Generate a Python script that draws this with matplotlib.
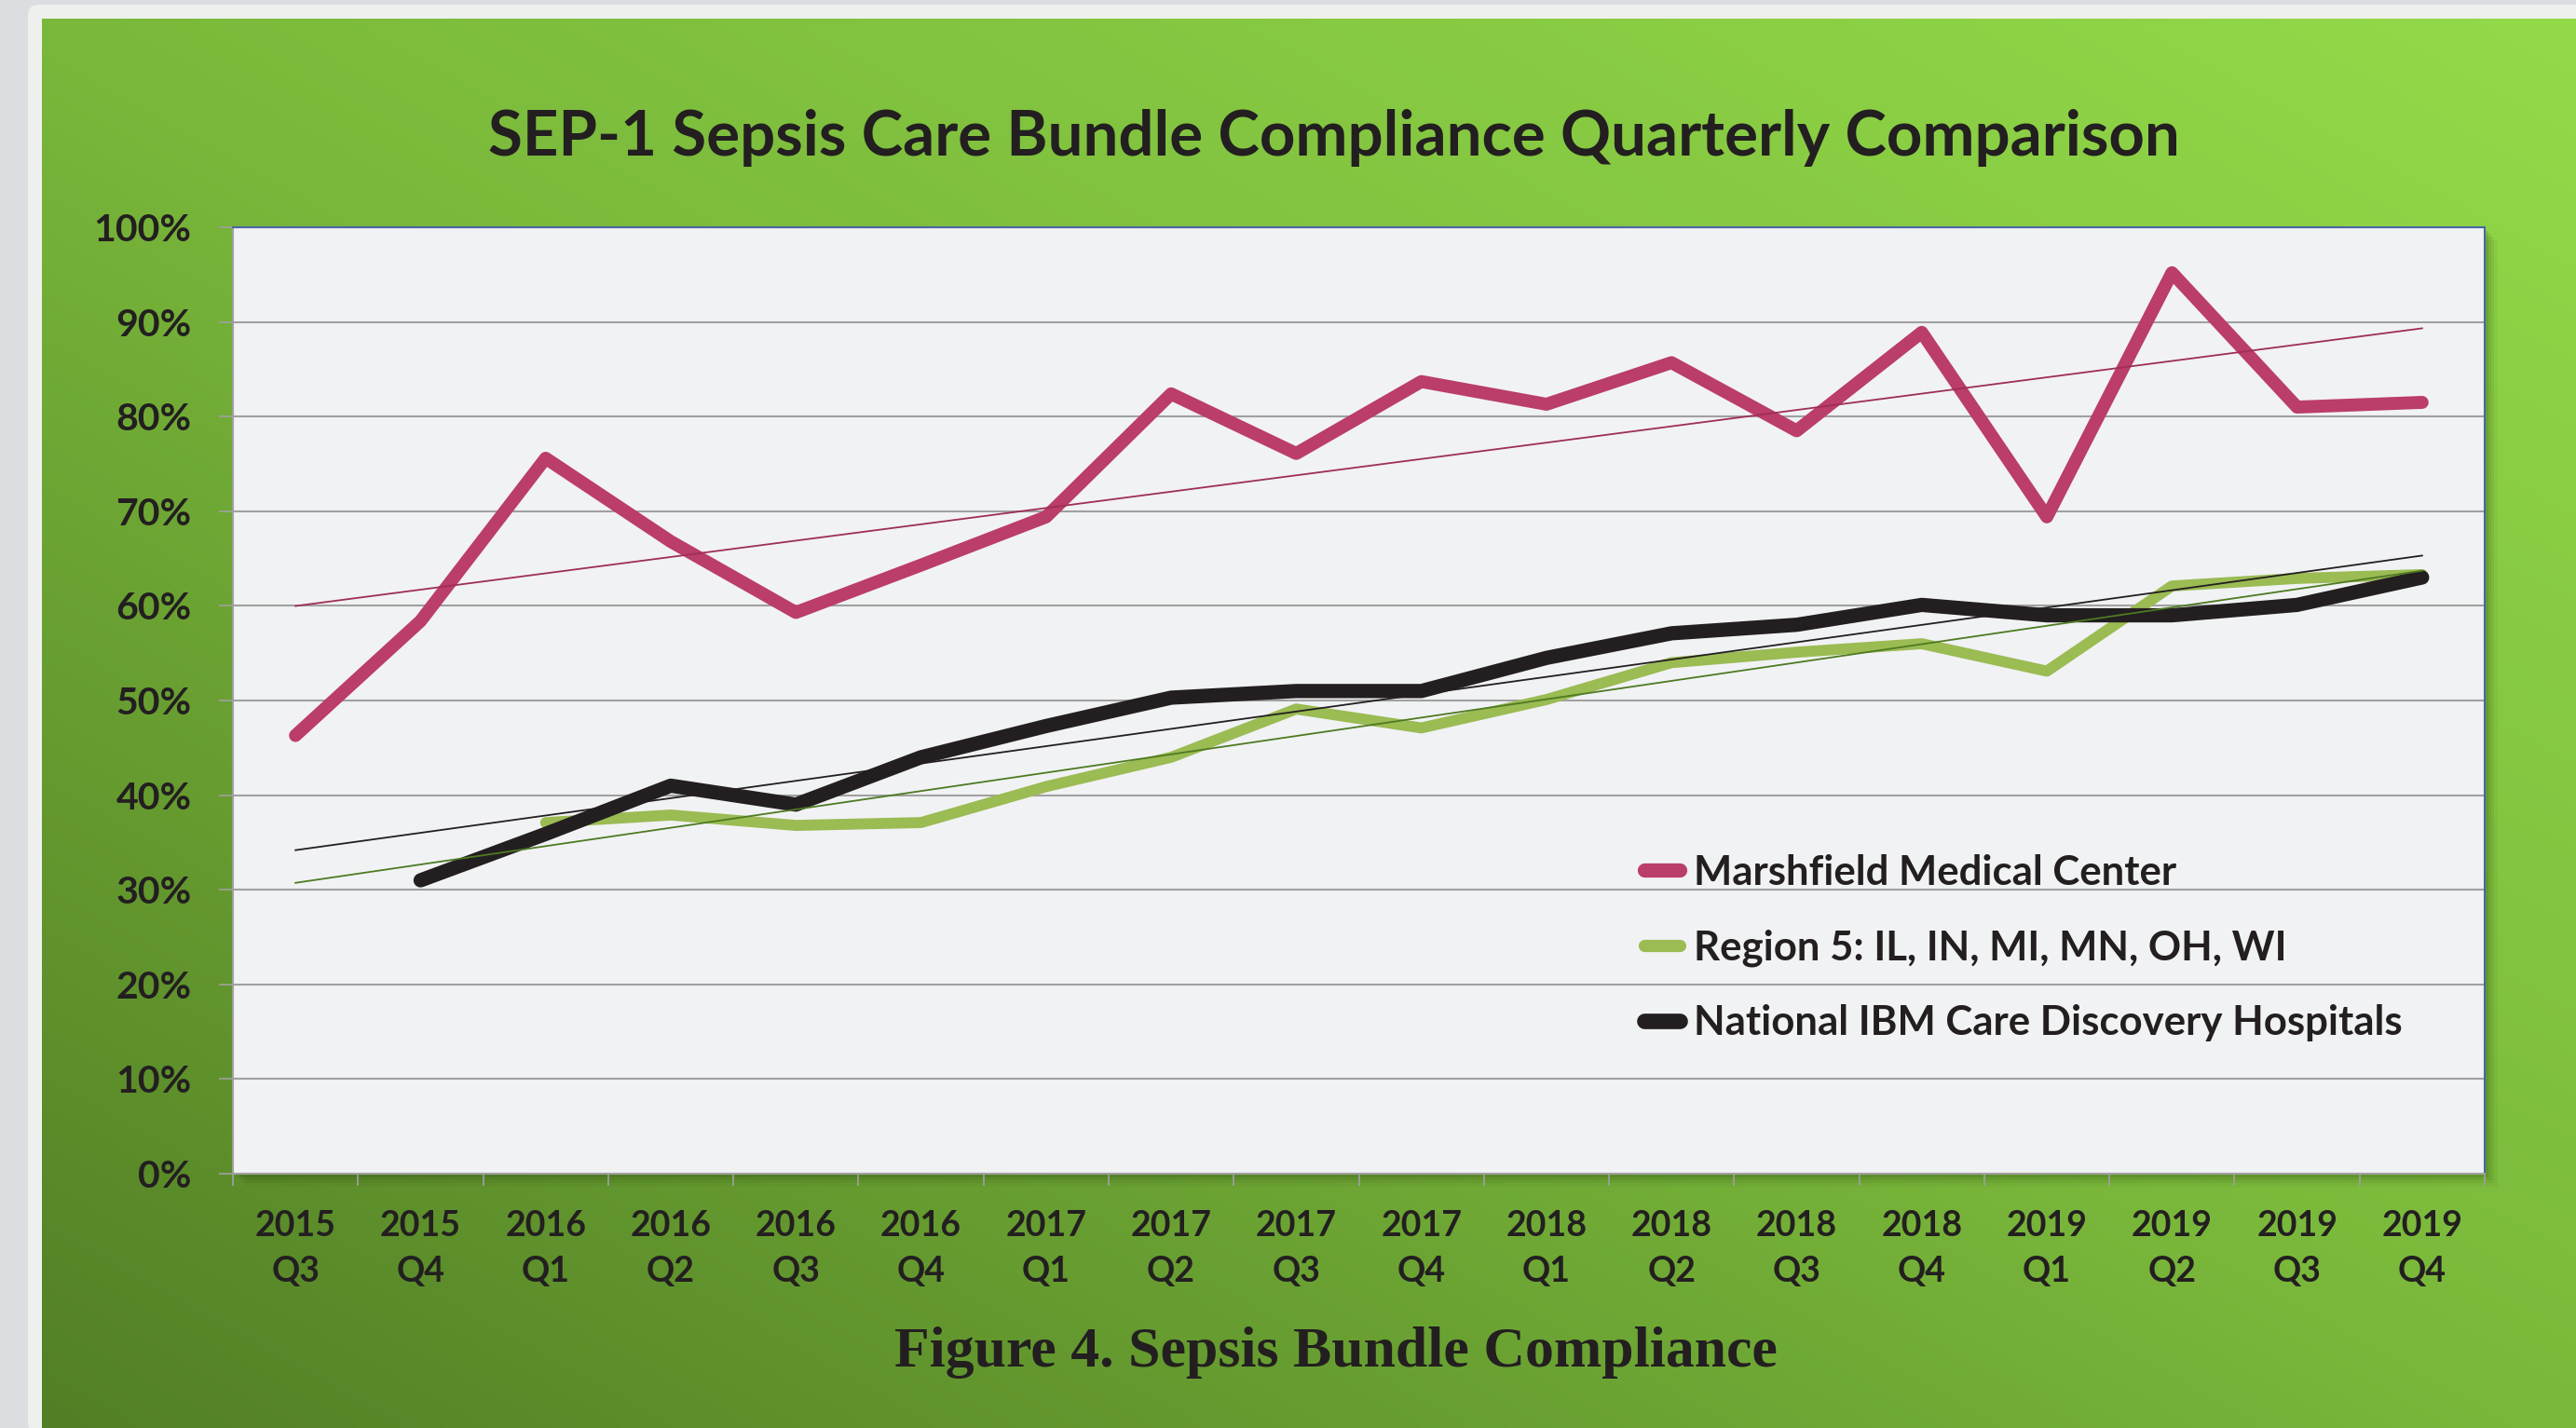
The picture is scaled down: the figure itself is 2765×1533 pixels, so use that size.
import numpy as np
import matplotlib
matplotlib.use("Agg")
import matplotlib.pyplot as plt
from matplotlib.patches import Rectangle, FancyBboxPatch
from matplotlib.ticker import PercentFormatter

# Datos (porcentaje de cumplimiento)
trimestres = ["2015\nQ3", "2015\nQ4", "2016\nQ1", "2016\nQ2", "2016\nQ3", "2016\nQ4",
              "2017\nQ1", "2017\nQ2", "2017\nQ3", "2017\nQ4", "2018\nQ1", "2018\nQ2",
              "2018\nQ3", "2018\nQ4", "2019\nQ1", "2019\nQ2", "2019\nQ3", "2019\nQ4"]
marshfield = [46.3, 58.4, 75.6, 66.8, 59.3, 64.3, 69.4, 82.4, 76.1, 83.7, 81.3, 85.7,
              78.5, 88.9, 69.4, 95.2, 81.0, 81.5]
region5 = [np.nan, np.nan, 37.1, 37.9, 36.8, 37.1, 40.9, 44.0, 49.1, 47.1, 50.1, 54.0,
           55.1, 56.0, 53.1, 62.1, 62.9, 63.3]
nacional = [np.nan, 31.0, 35.9, 41.0, 39.0, 44.0, 47.3, 50.3, 51.0, 51.0, 54.5, 57.1,
            58.0, 60.1, 59.0, 59.0, 60.1, 63.0]

# nombre, valores, color, color tendencia, grosor
series = [
    ("Marshfield Medical Center", marshfield, "#bb3d69", "#9e2f55", 10.0),
    ("Region 5: IL, IN, MI, MN, OH, WI", region5, "#9bbb53", "#4e7a22", 8.5),
    ("National IBM Care Discovery Hospitals", nacional, "#231f20", "#231f20", 11.0),
]

W, H = 2765, 1533
TXT = "#231f20"
FUENTE = ["Lato", "DejaVu Sans"]

fig = plt.figure(figsize=(W / 100, H / 100), dpi=100)
fig.patch.set_facecolor("#dcdde0")

# Fondo: marco claro y degradado verde
fondo = fig.add_axes([0, 0, 1, 1], zorder=-10)
fondo.add_patch(FancyBboxPatch((30, 5), W, H, boxstyle="round,pad=0,rounding_size=12",
                               facecolor="#eef0ee", edgecolor="none", zorder=1))
gx, gy = np.meshgrid(np.linspace(0, 1, 400), np.linspace(0, 1, 240))
t = 0.5 * gx + 0.5 * (1 - gy)
oscuro = np.array([0x52, 0x7f, 0x25]) / 255
medio = np.array([0x7a, 0xb8, 0x3b]) / 255
claro = np.array([0x93, 0xda, 0x49]) / 255
img = np.where(t[..., None] < 0.5,
               oscuro + (medio - oscuro) * (t[..., None] / 0.5),
               medio + (claro - medio) * ((t[..., None] - 0.5) / 0.5))
fondo.imshow(img, extent=(45, W, H, 20), aspect="auto", interpolation="bilinear", zorder=2)

# Sombra del area de trazado
x0, y0, x1, y1 = 250, 244, 2667, 1260
for k, a in zip([14, 10, 7, 4], [0.06, 0.08, 0.10, 0.14]):
    fondo.add_patch(Rectangle((x0 + k, y0 + k), x1 - x0, y1 - y0,
                              facecolor="#2c4a12", alpha=a, edgecolor="none", zorder=3))
fondo.set_xlim(0, W)
fondo.set_ylim(H, 0)
fondo.axis("off")

ax = fig.add_axes([x0 / W, 1 - y1 / H, (x1 - x0) / W, (y1 - y0) / H])
ax.set_facecolor("#f1f2f4")

x = np.arange(len(trimestres))
for nombre, valores, color, color_tend, grosor in series:
    v = np.array(valores)
    ax.plot(x, v, color=color, lw=grosor, solid_joinstyle="round",
            solid_capstyle="round", label=nombre, zorder=3)
    ok = ~np.isnan(v)
    m, b = np.polyfit(x[ok], v[ok], 1)
    ax.plot(x, m * x + b, color=color_tend, lw=1.3, zorder=4)

ax.set_xlim(-0.5, len(trimestres) - 0.5)
ax.set_ylim(0, 100)
ax.set_yticks(np.arange(0, 101, 10))
ax.yaxis.set_major_formatter(PercentFormatter(decimals=0))
ax.grid(axis="y", color="#a0a0a0", lw=1.5)
ax.set_axisbelow(True)

ax.set_xticks(np.arange(-0.5, len(trimestres)), [])
ax.set_xticks(x, trimestres, minor=True)
ax.tick_params(axis="x", which="major", length=9, width=1.2, color="#a0a0a0")
ax.tick_params(axis="x", which="minor", length=0, pad=28)
ax.tick_params(axis="y", length=11, width=1.2, color="#a0a0a0", pad=21)

for lab in ax.get_xticklabels(minor=True):
    lab.set_fontfamily(FUENTE)
    lab.set_fontweight("bold")
    lab.set_fontsize(27)
    lab.set_color(TXT)
    lab.set_linespacing(1.55)
for lab in ax.get_yticklabels():
    lab.set_fontfamily(FUENTE)
    lab.set_fontweight("bold")
    lab.set_fontsize(29.5)
    lab.set_color(TXT)

for lado in ["left", "bottom"]:
    ax.spines[lado].set_color("#a0a0a0")
    ax.spines[lado].set_linewidth(1.5)
for lado in ["top", "right"]:
    ax.spines[lado].set_color("#4a67a3")
    ax.spines[lado].set_linewidth(1.5)

leg = ax.legend(loc="upper left", bbox_to_anchor=(0.627, 0.338), frameon=False,
                borderpad=0, borderaxespad=0, handlelength=0.85, handletextpad=0.35,
                labelspacing=0.93,
                prop={"family": FUENTE, "weight": "bold", "size": 31.5})
for h, (_, _, _, _, grosor) in zip(leg.legend_handles, series):
    h.set_linewidth(grosor + 1)
    h.set_solid_capstyle("round")
for txt in leg.get_texts():
    txt.set_color(TXT)

fig.text(1432 / W, 1 - 167 / H, "SEP-1 Sepsis Care Bundle Compliance Quarterly Comparison",
         ha="center", va="baseline", fontsize=48.3, fontweight="bold",
         family=FUENTE, color=TXT)
fig.text(1434 / W, 1 - 1467 / H, "Figure 4. Sepsis Bundle Compliance",
         ha="center", va="baseline", fontsize=44.5, fontweight="bold",
         family=["Liberation Serif", "DejaVu Serif"], color=TXT)

fig.savefig("out.png", dpi=100, facecolor=fig.get_facecolor())
